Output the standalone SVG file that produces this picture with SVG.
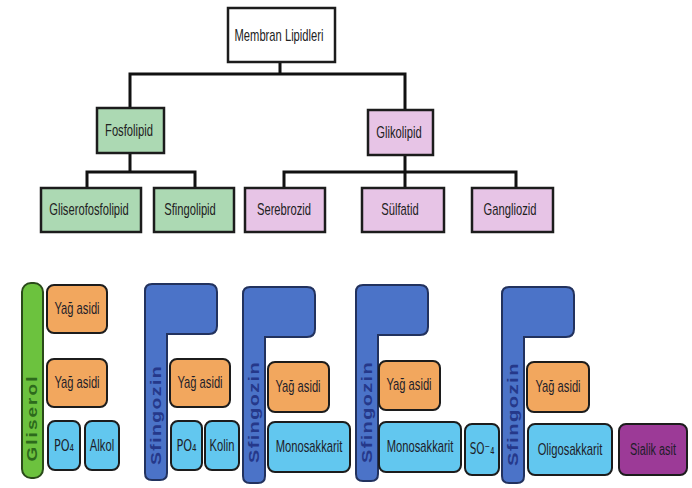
<svg xmlns="http://www.w3.org/2000/svg" width="692" height="488" viewBox="0 0 692 488">
<style>
text{font-family:"Liberation Sans",Arial,sans-serif;text-anchor:middle;}
.t{font-size:16px;fill:#222;}
.box{stroke:#1c1c1c;stroke-width:2.5;}
.white{fill:#ffffff;}
.green{fill:#acd9b3;}
.pink{fill:#e7c4e6;}
.conn{stroke:#111;stroke-width:3;fill:none;stroke-linecap:square;}
.b{stroke:#1c1c1c;stroke-width:2;}
.orange{fill:#f2a75e;}
.sky{fill:#62c7ef;}
.purple{fill:#9c3a97;}
.lt{font-size:16px;fill:#1e1e2a;}
.sf{fill:#4b73c8;stroke:#22325e;stroke-width:2;}
.sft{font-size:14px;font-weight:bold;fill:#25388a;letter-spacing:1px;}
.sub{font-family:"DejaVu Sans","Liberation Sans",sans-serif;font-size:15px;}
</style>
<defs>
<path id="sfshape" d="M0,7 Q0,0 7,0 L64,0 Q72,0 72,8 L72,42 Q72,50 64,50 L22,50 L22,189 Q22,196 15,196 L7,196 Q0,196 0,189 Z"/>
</defs>
<rect width="692" height="488" fill="#ffffff"/>

<g id="connectors">
<path class="conn" d="M280,62 V74 M130,74 H405 M130,74 V108 M405,74 V110"/>
<path class="conn" d="M130,153 V172 M87,172 H195 M87,172 V188 M195,172 V188"/>
<path class="conn" d="M405,155 V172 M284,172 H516 M284,172 V188 M405,172 V188 M516,172 V188"/>
</g>

<g id="membran-lipidleri">
<rect class="box white" x="228" y="8" width="107" height="54"/>
<text class="t" transform="translate(279,41) scale(0.7,1)">Membran Lipidleri</text>
</g>
<g id="fosfolipid">
<rect class="box green" x="97" y="108" width="67" height="45"/>
<text class="t" transform="translate(129,136) scale(0.7,1)">Fosfolipid</text>
</g>
<g id="glikolipid">
<rect class="box pink" x="368" y="110" width="65" height="45"/>
<text class="t" transform="translate(399,138) scale(0.7,1)">Glikolipid</text>
</g>
<g id="gliserofosfolipid">
<rect class="box green" x="41" y="188" width="100" height="44"/>
<text class="t" transform="translate(89,215) scale(0.7,1)">Gliserofosfolipid</text>
</g>
<g id="sfingolipid">
<rect class="box green" x="154" y="188" width="80" height="44"/>
<text class="t" transform="translate(190,215) scale(0.7,1)">Sfingolipid</text>
</g>
<g id="serebrozid">
<rect class="box pink" x="245" y="188" width="80" height="44"/>
<text class="t" transform="translate(284,215) scale(0.7,1)">Serebrozid</text>
</g>
<g id="sulfatid">
<rect class="box pink" x="362" y="188" width="82" height="44"/>
<text class="t" transform="translate(400,215) scale(0.7,1)">Sülfatid</text>
</g>
<g id="gangliozid">
<rect class="box pink" x="472" y="188" width="81" height="44"/>
<text class="t" transform="translate(510,215) scale(0.7,1)">Gangliozid</text>
</g>

<!-- Gliserol structure -->
<g id="gliserol">
<rect x="22" y="283" width="21" height="195" rx="9" fill="#6cc23e" stroke="#2a4a1a" stroke-width="2"/>
<text transform="translate(37,418) rotate(-90)" font-size="14" font-weight="bold" fill="#2d6a1c" letter-spacing="1.5" textLength="87" lengthAdjust="spacingAndGlyphs">Gliserol</text>
</g>
<g id="g-yag1"><rect class="b orange" x="47" y="285" width="60" height="48" rx="7"/><text class="lt" transform="translate(77,314) scale(0.7,1)">Yağ asidi</text></g>
<g id="g-yag2"><rect class="b orange" x="47" y="359" width="60" height="48" rx="7"/><text class="lt" transform="translate(77,388) scale(0.7,1)">Yağ asidi</text></g>
<g id="g-po4"><rect class="b sky" x="48" y="421" width="32" height="49" rx="7"/><text class="lt sub" transform="translate(64,451) scale(0.75,1)">PO₄</text></g>
<g id="g-alkol"><rect class="b sky" x="85" y="421" width="34" height="49" rx="7"/><text class="lt" transform="translate(102,451) scale(0.7,1)">Alkol</text></g>

<!-- Sfingolipid 1 -->
<g id="sfingozin1">
<use href="#sfshape" class="sf" transform="translate(145,284)"/>
<text class="sft" transform="translate(161,415) rotate(-90)" textLength="100" lengthAdjust="spacingAndGlyphs">Sfingozin</text>
</g>
<g id="s1-yag"><rect class="b orange" x="170" y="359" width="60" height="48" rx="7"/><text class="lt" transform="translate(200,388) scale(0.7,1)">Yağ asidi</text></g>
<g id="s1-po4"><rect class="b sky" x="171" y="421" width="31" height="49" rx="7"/><text class="lt sub" transform="translate(186.5,451) scale(0.75,1)">PO₄</text></g>
<g id="s1-kolin"><rect class="b sky" x="205" y="421" width="34" height="49" rx="7"/><text class="lt" transform="translate(222,451) scale(0.7,1)">Kolin</text></g>

<!-- Sfingolipid 2 -->
<g id="sfingozin2">
<use href="#sfshape" class="sf" transform="translate(243,287)"/>
<text class="sft" transform="translate(259,412) rotate(-90)" textLength="102" lengthAdjust="spacingAndGlyphs">Sfingozin</text>
</g>
<g id="s2-yag"><rect class="b orange" x="268" y="362" width="61" height="50" rx="7"/><text class="lt" transform="translate(298,392) scale(0.7,1)">Yağ asidi</text></g>
<g id="s2-mono"><rect class="b sky" x="268" y="422" width="82" height="50" rx="7"/><text class="lt" transform="translate(309,452) scale(0.7,1)">Monosakkarit</text></g>

<!-- Sfingolipid 3 -->
<g id="sfingozin3">
<use href="#sfshape" class="sf" transform="translate(356,285)"/>
<text class="sft" transform="translate(372,412) rotate(-90)" textLength="102" lengthAdjust="spacingAndGlyphs">Sfingozin</text>
</g>
<g id="s3-yag"><rect class="b orange" x="379" y="361" width="61" height="49" rx="7"/><text class="lt" transform="translate(409,390) scale(0.7,1)">Yağ asidi</text></g>
<g id="s3-mono"><rect class="b sky" x="379" y="422" width="82" height="50" rx="7"/><text class="lt" transform="translate(420,452) scale(0.7,1)">Monosakkarit</text></g>
<g id="s3-so4"><rect class="b sky" x="465" y="424" width="34" height="51" rx="7"/><text class="lt sub" transform="translate(482,454) scale(0.7,1)">SO⁻₄</text></g>

<!-- Sfingolipid 4 -->
<g id="sfingozin4">
<use href="#sfshape" class="sf" transform="translate(502,287)"/>
<text class="sft" transform="translate(518,414) rotate(-90)" textLength="104" lengthAdjust="spacingAndGlyphs">Sfingozin</text>
</g>
<g id="s4-yag"><rect class="b orange" x="527" y="362" width="62" height="50" rx="7"/><text class="lt" transform="translate(558,392) scale(0.7,1)">Yağ asidi</text></g>
<g id="s4-oligo"><rect class="b sky" x="528" y="424" width="84" height="51" rx="7"/><text class="lt" transform="translate(570,455) scale(0.7,1)">Oligosakkarit</text></g>
<g id="s4-sialik"><rect class="b purple" x="619" y="424" width="68" height="51" rx="7"/><text class="lt" transform="translate(653,455) scale(0.68,1)" fill="#1a0f1a">Sialik asit</text></g>
</svg>
